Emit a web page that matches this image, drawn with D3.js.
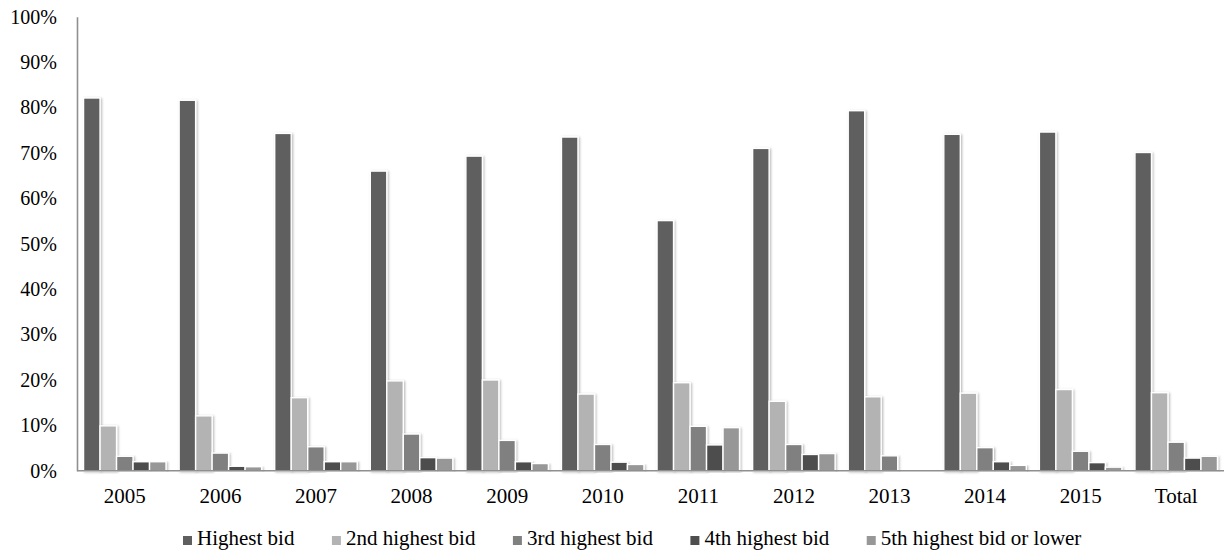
<!DOCTYPE html>
<html>
<head>
<meta charset="utf-8">
<script src="https://cdn.jsdelivr.net/npm/d3@7"></script>
<style>
  html, body { margin: 0; padding: 0; background: #fff; }
  svg { display: block; }
  svg text { font-family: "Liberation Serif", "Times New Roman", serif; }
</style>
</head>
<body>
<svg id="chart" width="1232" height="554"></svg>
<script>
// Share of winning bids by bid rank, per year
const categories = ["2005", "2006", "2007", "2008", "2009", "2010", "2011", "2012", "2013", "2014", "2015", "Total"];
const seriesNames = ["Highest bid", "2nd highest bid", "3rd highest bid", "4th highest bid", "5th highest bid or lower"];
const highestBid   = [82.1, 81.6, 74.3, 66.0, 69.3, 73.5, 55.1, 71.0, 79.3, 74.1, 74.6, 70.1];
const secondBid    = [9.9, 12.1, 16.1, 19.8, 20.0, 16.9, 19.4, 15.3, 16.3, 17.1, 17.9, 17.2];
const thirdBid     = [3.2, 3.9, 5.3, 8.1, 6.7, 5.8, 9.8, 5.8, 3.3, 5.1, 4.3, 6.3];
const fourthBid    = [2.0, 1.0, 2.0, 2.9, 2.0, 1.9, 5.7, 3.6, 0.0, 2.0, 1.8, 2.8];
const fifthBid     = [2.0, 0.9, 2.0, 2.8, 1.6, 1.4, 9.5, 3.8, 0.0, 1.2, 0.8, 3.2];
const yTicks = [0, 10, 20, 30, 40, 50, 60, 70, 80, 90, 100];
const colors = ["#5f5f5f", "#b3b3b3", "#808080", "#4e4e4e", "#979797"];

const seriesValues = [highestBid, secondBid, thirdBid, fourthBid, fifthBid];

const svg = d3.select("#chart");
const plot = { left: 77, right: 1224, top: 16.7, bottom: 470.8 };
const serif = "'Liberation Serif', 'Times New Roman', serif";

// soft shadow behind the bars
const defs = svg.append("defs");
const f = defs.append("filter").attr("id", "barShadow")
  .attr("x", "-30%").attr("y", "-5%").attr("width", "160%").attr("height", "110%");
f.append("feDropShadow").attr("dx", 1.2).attr("dy", 0.8).attr("stdDeviation", 1.3)
  .attr("flood-color", "#000").attr("flood-opacity", 0.28);

const x0 = d3.scaleBand().domain(categories).range([plot.left, plot.right])
  .paddingInner(0.137).paddingOuter(0.0685);
const x1 = d3.scaleBand().domain(d3.range(seriesNames.length)).range([0, x0.bandwidth()]);
const y = d3.scaleLinear().domain([0, 100]).range([plot.bottom, plot.top]);

// bars
const groups = svg.append("g").selectAll("g")
  .data(categories)
  .join("g")
  .attr("transform", d => `translate(${x0(d)},0)`);

groups.selectAll("rect")
  .data((c, ci) => seriesValues.map((vals, si) => ({ si, v: vals[ci] })).filter(d => d.v > 0))
  .join("rect")
  .attr("x", d => x1(d.si))
  .attr("width", x1.bandwidth())
  .attr("y", d => y(d.v))
  .attr("height", d => y(0) - y(d.v))
  .attr("fill", d => colors[d.si])
  .attr("stroke", "#fff")
  .attr("stroke-width", 1.4)
  .attr("filter", "url(#barShadow)");

// y axis
const yAxis = d3.axisLeft(y).tickValues(yTicks).tickSize(0).tickPadding(20)
  .tickFormat(d => d + "%");
const gy = svg.append("g").attr("transform", `translate(${plot.left},0)`).call(yAxis)
  .attr("font-family", serif).attr("font-size", 20);
gy.select(".domain").attr("stroke", "#8f8f8f").attr("stroke-width", 1.6);
gy.selectAll("text").attr("fill", "#000");

// x axis
const xAxis = d3.axisBottom(x0).tickSize(0).tickPadding(17);
const gx = svg.append("g").attr("transform", `translate(0,${plot.bottom})`).call(xAxis)
  .attr("font-family", serif).attr("font-size", 21);
gx.select(".domain").attr("stroke", "#8f8f8f").attr("stroke-width", 1.6)
  .attr("d", `M${plot.left},0H${plot.right}`);
gx.selectAll("text").attr("fill", "#000");

// legend row under the plot
const legend = svg.append("g").attr("font-family", serif).attr("font-size", 21);
const items = legend.selectAll("g").data(seriesNames).join("g");
items.append("rect").attr("width", 9).attr("height", 9).attr("y", -9)
  .attr("fill", (d, i) => colors[i]);
items.append("text").attr("x", 14).attr("y", 0).attr("fill", "#000")
  .text(d => d);
let cursor = 0;
items.each(function () {
  const w = this.getBBox().width;
  d3.select(this).attr("transform", `translate(${cursor},0)`);
  cursor += w + 37;
});
legend.attr("transform", "translate(183,545)");
</script>
</body>
</html>
